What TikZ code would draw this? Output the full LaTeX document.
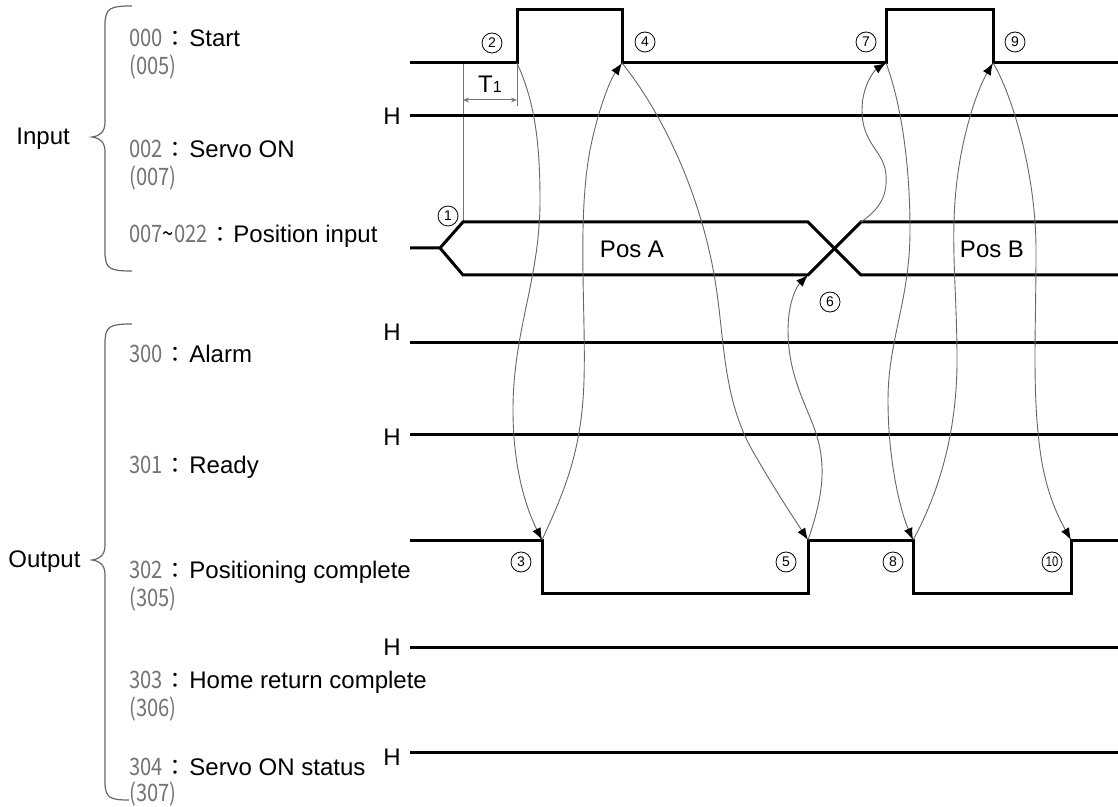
\documentclass[tikz,border=0pt]{standalone}
\usepackage{fontspec}
\setmainfont{Liberation Sans}
\newfontfamily\codefont{Noto Sans CJK JP}
\usetikzlibrary{arrows.meta}
\tikzset{
  sig/.style={line width=1.5pt, black},
  guide/.style={line width=0.5pt, black!55},
  brc/.style={line width=0.6pt, black!60},
  conn/.style={line width=0.45pt, black!60, -{Latex[length=6pt,width=4.5pt,color=black]}},
  dim/.style={guide, {Stealth[length=3pt,width=2.4pt]}-{Stealth[length=3pt,width=2.4pt]}},
  sigtext/.style={anchor=base west, inner sep=0pt, font=\fontsize{12}{14}\selectfont},
  hmark/.style={anchor=base east, inner sep=0pt, font=\fontsize{12}{14}\selectfont},
  stepno/.style={circle, draw, line width=0.4pt, minimum size=10pt, inner sep=0pt,
                 font=\fontsize{7}{7}\selectfont}
}
\newcommand{\sigpar}[1]{{\codefont\fontsize{12}{14}\selectfont\color{black!55}\scalebox{0.84}[1]{#1}}}
\newcommand{\sigcode}[2][30pt]{\makebox[#1][l]{\sigpar{#2}\hspace{1pt}{\codefont\fontsize{11}{13}\selectfont ：}}}

\begin{document}
\begin{tikzpicture}[x=0.5pt, y=-0.5pt]
\useasboundingbox (0,0) rectangle (1118,807);

% Group braces
\node[sigtext] (inLbl) at (16,145) {Input};
\node[sigtext] (outLbl) at (8,567) {Output};
\draw[brc] (132,6) .. controls (110,6) and (105,8) .. (105,25) -- (105,122)
  .. controls (105,132) and (100,136) .. (92,137) .. controls (100,138) and (105,142) .. (105,152)
  -- (105,252) .. controls (105,269) and (110,271) .. (132,271);
\draw[brc] (132,324) .. controls (110,324) and (105,326) .. (105,343) -- (105,545)
  .. controls (105,555) and (100,559) .. (92,560) .. controls (100,561) and (105,565) .. (105,575)
  -- (105,782) .. controls (105,798) and (110,800) .. (129,800);

% Input signal names
\node[sigtext] (nStart) at (129,47) {\sigcode{000}Start};
\node[sigtext] (cStart) at (129,75) {\sigpar{(005)}};
\node[sigtext] (nServo) at (129,158) {\sigcode{002}Servo ON};
\node[sigtext] (cServo) at (129,186) {\sigpar{(007)}};
\node[sigtext] (nPos) at (129,243) {\sigcode[52pt]{007{\color{black}\textasciitilde}022}Position input};

% Output signal names
\node[sigtext] (nAlarm) at (129,363) {\sigcode{300}Alarm};
\node[sigtext] (nReady) at (129,473) {\sigcode{301}Ready};
\node[sigtext] (nPcmp) at (129,578) {\sigcode{302}Positioning complete};
\node[sigtext] (cPcmp) at (129,606) {\sigpar{(305)}};
\node[sigtext] (nHome) at (129,688) {\sigcode{303}Home return complete};
\node[sigtext] (cHome) at (129,716) {\sigpar{(306)}};
\node[sigtext] (nSvst) at (129,775) {\sigcode{304}Servo ON status};
\node[sigtext] (cSvst) at (129,801) {\sigpar{(307)}};

% H levels
\node[hmark] (hServo) at (401,125) {H};
\node[hmark] (hAlarm) at (401,341) {H};
\node[hmark] (hReady) at (401,445) {H};
\node[hmark] (hHome) at (401,655) {H};
\node[hmark] (hSvst) at (401,765) {H};

% Edge points
\coordinate (stR1) at (517,63);
\coordinate (stF1) at (622,63);
\coordinate (stR2) at (886,63);
\coordinate (stF2) at (993,63);
\coordinate (pcF1) at (542,540);
\coordinate (pcR1) at (808,540);
\coordinate (pcF2) at (913,540);
\coordinate (pcR2) at (1071,540);
\coordinate (posA) at (808,275);
\coordinate (posB) at (861,222);
\coordinate (t1a) at (463,100);
\coordinate (t1b) at (517,100);

% T1 timing
\draw[guide] (463,63) -- (463,222);
\draw[guide] (stR1) -- (517,106);
\draw[dim] (t1a) -- (t1b);
\node[inner sep=0pt, anchor=base, font=\fontsize{12}{14}\selectfont] (tOne) at (490,93)
  {T\fontsize{8}{8}\selectfont 1};

% Signals
\draw[sig] (410,63) -- (stR1) -- (517,10) -- (622,10) -- (stF1) -- (stR2)
  -- (886,10) -- (993,10) -- (stF2) -- (1118,63);
\draw[sig] (410,116) -- (1118,116);
\draw[sig] (410,248) -- (440,248) -- (463,222) -- (808,222) -- (861,275) -- (1118,275);
\draw[sig] (440,248) -- (463,275) -- (posA) -- (posB) -- (1118,222);
\draw[sig] (410,343) -- (1118,343);
\draw[sig] (410,434) -- (1118,434);
\draw[sig] (410,540) -- (pcF1) -- (542,593) -- (808,593) -- (pcR1) -- (pcF2)
  -- (913,593) -- (1071,593) -- (pcR2) -- (1118,540);
\draw[sig] (410,647) -- (1118,647);
\draw[sig] (410,752) -- (1118,752);

\node[inner sep=0pt, anchor=base, font=\fontsize{12}{14}\selectfont] (pA) at (632,258) {Pos A};
\node[inner sep=0pt, anchor=base, font=\fontsize{12}{14}\selectfont] (pB) at (992,258) {Pos B};

% Handshake connectors
\draw[conn] (stR1) .. controls (534,100) and (540,140) .. (540,200)
  .. controls (540,280) and (513,330) .. (513,410)
  .. controls (513,470) and (527,510) .. (pcF1);
\draw[conn] (pcF1) .. controls (565,490) and (582,450) .. (584,380)
  .. controls (586,310) and (577,220) .. (590,150)
  .. controls (598,110) and (610,80) .. (stF1);
\draw[conn] (stF1) .. controls (660,110) and (700,190) .. (715,280)
  .. controls (725,340) and (722,400) .. (755,455)
  .. controls (775,490) and (795,520) .. (pcR1);
\draw[conn] (pcR1) .. controls (822,500) and (826,470) .. (818,440)
  .. controls (810,410) and (788,380) .. (788,330)
  .. controls (788,300) and (798,285) .. (posA);
\draw[conn] (posB) .. controls (875,212) and (888,200) .. (886,175)
  .. controls (884,150) and (862,145) .. (862,110)
  .. controls (862,85) and (875,70) .. (stR2);
\draw[conn] (stR2) .. controls (900,100) and (910,160) .. (910,230)
  .. controls (910,300) and (888,340) .. (888,400)
  .. controls (888,460) and (900,510) .. (pcF2);
\draw[conn] (pcF2) .. controls (935,500) and (957,440) .. (957,360)
  .. controls (957,280) and (948,230) .. (960,160)
  .. controls (968,115) and (980,85) .. (stF2);
\draw[conn] (stF2) .. controls (1010,90) and (1036,170) .. (1036,250)
  .. controls (1036,330) and (1032,390) .. (1040,450)
  .. controls (1046,495) and (1060,520) .. (pcR2);

% Step numbers
\node[stepno] (s1) at (448,216) {1};
\node[stepno] (s2) at (492,43) {2};
\node[stepno] (s3) at (521,562) {3};
\node[stepno] (s4) at (645,42) {4};
\node[stepno] (s5) at (786,562) {5};
\node[stepno] (s6) at (830,302) {6};
\node[stepno] (s7) at (866,42) {7};
\node[stepno] (s8) at (893,562) {8};
\node[stepno] (s9) at (1015,42) {9};
\node[stepno] (s10) at (1052,562) {\scalebox{0.8}[1]{10}};

\end{tikzpicture}
\end{document}
